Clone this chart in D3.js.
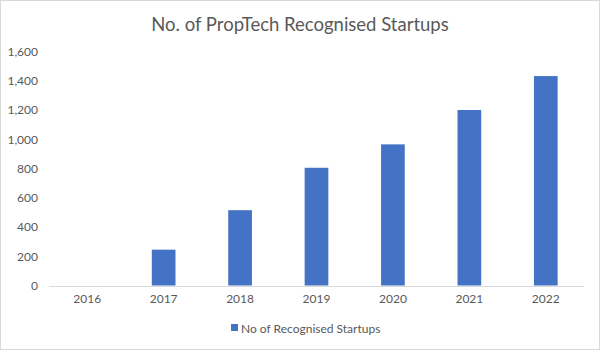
<!DOCTYPE html>
<html><head><meta charset="utf-8">
<script src="https://cdn.jsdelivr.net/npm/d3@7"></script>
<style>body{margin:0;background:#fff}svg{display:block}text{font-family:Lato,"Open Sans",sans-serif;fill:#595959}</style>
</head><body><svg id="c" width="600" height="350"></svg>
<script>
const categories = ["2016","2017","2018","2019","2020","2021","2022"];
const values = [0, 245, 515, 805, 965, 1200, 1432];
const yTicks = [0,200,400,600,800,1000,1200,1400,1600];
const seriesName = "No of Recognised Startups";
const title = "No. of PropTech Recognised Startups";

const svg = d3.select("#c");
svg.append("rect").attr("x",0.5).attr("y",0.5).attr("width",599).attr("height",349)
  .attr("fill","#fff").attr("stroke","#d9d9d9");

const m = {l:49, r:16, t:51.5, b:64.5};
const W = 600, H = 350;
const x = d3.scaleBand().domain(categories).range([m.l, W-m.r]).paddingInner(0.69).paddingOuter(0.345);
const y = d3.scaleLinear().domain([0,1600]).range([H-m.b, m.t]);

svg.append("g").selectAll("rect").data(values).join("rect")
  .attr("x",(d,i)=>x(categories[i])).attr("width",x.bandwidth())
  .attr("y",d=>y(d)).attr("height",d=>y(0)-y(d))
  .attr("fill","#4472c4");

svg.append("line").attr("x1",m.l).attr("x2",W-m.r)
  .attr("y1",Math.round(y(0))+0.5).attr("y2",Math.round(y(0))+0.5)
  .attr("stroke","#d9d9d9").attr("stroke-width",1);

const fmt = d3.format(",");
const yAxis = svg.append("g").attr("transform",`translate(${m.l-11},0)`)
  .call(d3.axisLeft(y).tickValues(yTicks).tickFormat(fmt).tickSize(0).tickPadding(0));
yAxis.select(".domain").remove();
yAxis.selectAll("text").attr("font-size",12).style("font-family","Lato,sans-serif").attr("fill","#595959");

const xAxis = svg.append("g").attr("transform",`translate(0,${H-m.b})`)
  .call(d3.axisBottom(x).tickSize(0).tickPadding(9));
xAxis.select(".domain").remove();
xAxis.selectAll("text").attr("font-size",12).style("font-family","Lato,sans-serif").attr("fill","#595959");

svg.append("text").attr("x",300).attr("y",31).attr("text-anchor","middle")
  .attr("font-size",18.5).text(title);

const lg = svg.append("g").attr("transform","translate(231,329)");
lg.append("rect").attr("x",0).attr("y",-5).attr("width",7).attr("height",7).attr("fill","#4472c4");
lg.append("text").attr("x",10).attr("y",0).attr("dy","0.35em").attr("font-size",12).text(seriesName);
</script></body></html>
